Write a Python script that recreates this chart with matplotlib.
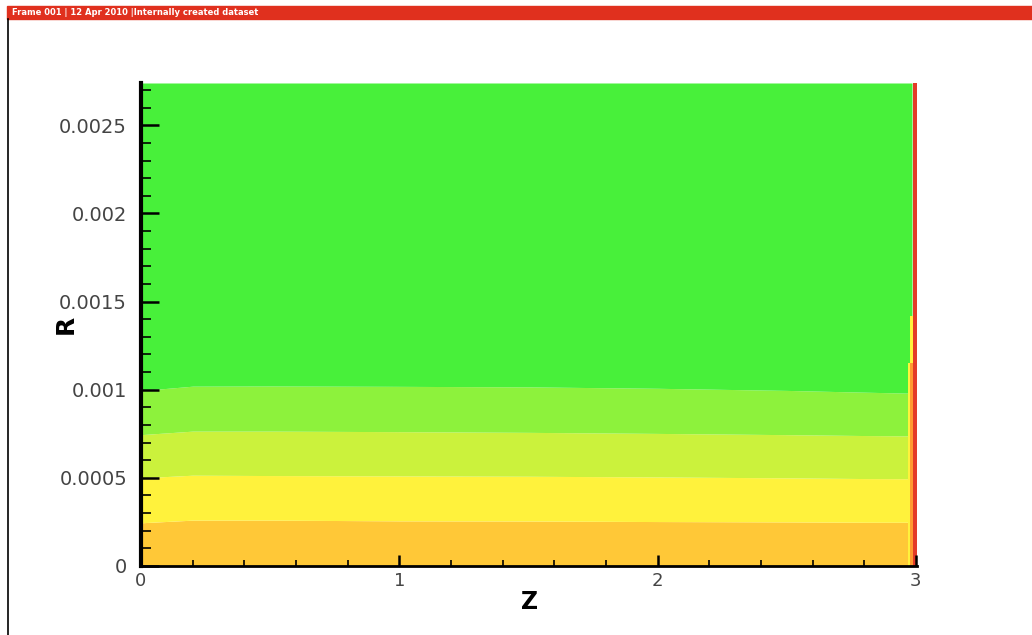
import matplotlib
matplotlib.use("Agg")
import matplotlib.pyplot as plt
import numpy as np

plt.rcParams['font.family'] = ['DejaVu Sans']

# sample positions along Z and the R value of each contour boundary
z_pts = [0.0, 0.2, 0.5, 1.0, 1.5, 2.0, 2.5, 2.8, 2.985]
b1 = [0.000245, 0.000260, 0.000260, 0.000256, 0.000255, 0.000252, 0.000250, 0.000248, 0.000248]
b2 = [0.000500, 0.000515, 0.000513, 0.000511, 0.000509, 0.000505, 0.000500, 0.000496, 0.000495]
b3 = [0.000745, 0.000765, 0.000765, 0.000762, 0.000758, 0.000752, 0.000745, 0.000740, 0.000738]
b4 = [0.000995, 0.001020, 0.001021, 0.001019, 0.001016, 0.001008, 0.000996, 0.000986, 0.000980]

band_colors = ['#ffc837', '#fff23c', '#cbf23c', '#8df23c', '#48f03a']

# thin strips at the outlet (z edges, R range, colour)
strip_z0 = [2.970, 2.978, 2.978, 2.988]
strip_z1 = [2.978, 2.988, 2.988, 3.006]
strip_r0 = [0.0, 0.0, 0.00115, 0.0]
strip_r1 = [0.00115, 0.00115, 0.00142, 0.00274]
strip_colors = ['#fff23c', '#ff9a30', '#fff23c', '#e33b28']

r_top = 0.00274
z_max = 3.006

fig = plt.figure(figsize=(10.32, 6.35), dpi=100)

# tecplot style frame header
fig.patches.append(plt.Rectangle((0.007, 0.970), 0.993, 0.021, transform=fig.transFigure,
                                 color='#e0301e', zorder=0))
fig.text(0.012, 0.980, 'Frame 001 | 12 Apr 2010 |Internally created dataset',
         color='white', fontsize=6, fontweight='bold', va='center', ha='left')
fig.add_artist(plt.Line2D([0.008, 0.008], [0.0, 0.970], transform=fig.transFigure,
                          color='black', lw=1.2))

ax = fig.add_axes([0.1366, 0.1087, 0.7524, 0.7606])

z = np.array(z_pts)
lower = [np.zeros_like(z)] + [np.array(b) for b in (b1, b2, b3, b4)]
upper = [np.array(b) for b in (b1, b2, b3, b4)] + [np.full_like(z, r_top)]
for lo, hi, c in zip(lower, upper, band_colors):
    ax.fill_between(z, lo, hi, color=c, lw=0)

for z0, z1, r0, r1, c in zip(strip_z0, strip_z1, strip_r0, strip_r1, strip_colors):
    ax.fill_between([z0, z1], [r0, r0], [r1, r1], color=c, lw=0)

ax.set_xlim(0, z_max)
ax.set_ylim(0, r_top)

ax.set_xticks([0, 1, 2, 3])
ax.set_xticks(np.arange(0, 3.01, 0.2), minor=True)
ax.set_yticks([0, 0.0005, 0.001, 0.0015, 0.002, 0.0025])
ax.set_yticks(np.arange(0, 0.00271, 0.0001), minor=True)
ax.set_yticklabels(['0', '0.0005', '0.001', '0.0015', '0.002', '0.0025'])

ax.tick_params(axis='y', which='major', direction='in', length=13, width=1.8,
               labelsize=14, labelcolor='#444444', pad=10)
ax.tick_params(axis='y', which='minor', direction='in', length=7.5, width=1.2)
ax.tick_params(axis='x', which='major', direction='in', length=8, width=1.8,
               labelsize=13, labelcolor='#444444', pad=4)
ax.tick_params(axis='x', which='minor', direction='in', length=4.5, width=1.2)

ax.spines['top'].set_visible(False)
ax.spines['right'].set_visible(False)
ax.spines['left'].set_linewidth(3)
ax.spines['bottom'].set_linewidth(2)
for s in ('left', 'bottom'):
    ax.spines[s].set_zorder(5)

ax.set_xlabel('Z', fontsize=17, fontweight='bold', labelpad=0)
ax.set_ylabel('R', fontsize=18, fontweight='bold')
ax.yaxis.set_label_coords(-0.082, 0.5)

fig.savefig('out.png', dpi=100)
plt.close(fig)
